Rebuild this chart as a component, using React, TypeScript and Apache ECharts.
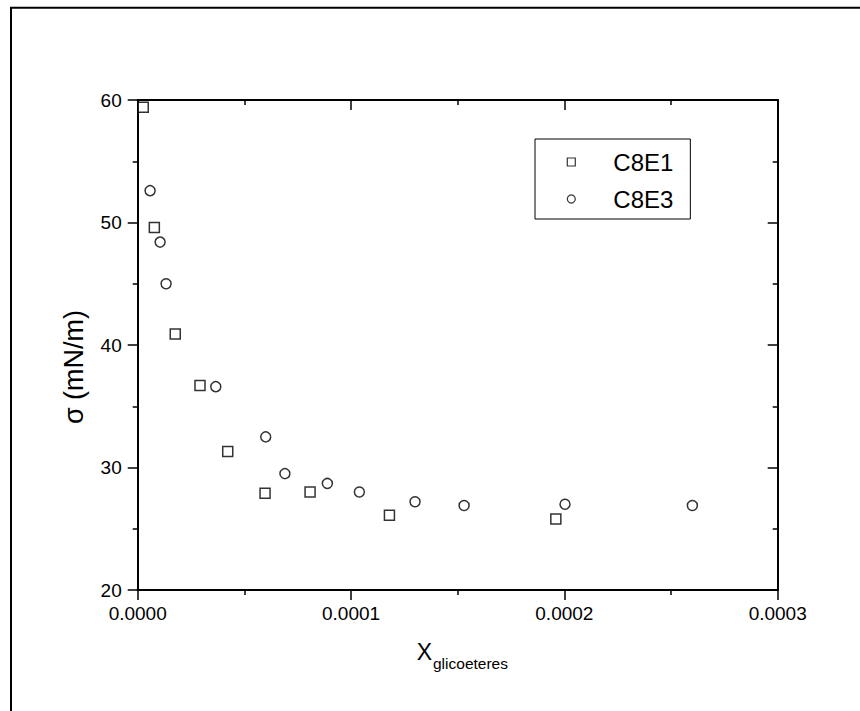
import React, { useEffect, useRef } from "react";
import * as echarts from "echarts";

const seriesNames = ["C8E1", "C8E3"];
const c8e1X = [2.6e-6, 7.8e-6, 1.76e-5, 2.92e-5, 4.22e-5, 5.97e-5, 8.08e-5, 1.18e-4, 1.96e-4];
const c8e1Y = [59.4, 49.6, 40.9, 36.7, 31.3, 27.9, 28.0, 26.1, 25.8];
const c8e3X = [5.8e-6, 1.05e-5, 1.33e-5, 3.66e-5, 6.0e-5, 6.9e-5, 8.89e-5, 1.039e-4, 1.3e-4, 1.53e-4, 2.003e-4, 2.6e-4];
const c8e3Y = [52.6, 48.4, 45.0, 36.6, 32.5, 29.5, 28.7, 28.0, 27.2, 26.9, 27.0, 26.9];
const xTitleMain = "X";
const xTitleSub = "glicoeteres";
const yTitle = "σ (mN/m)";

const FONT = "Arial, 'Liberation Sans', sans-serif";

export default function App() {
  const ref = useRef<HTMLDivElement>(null);
  useEffect(() => {
    document.body.style.margin = "0";
    if (!ref.current) return;
    const chart = echarts.init(ref.current, undefined, { renderer: "svg" });
    const axisLine = { show: true, onZero: false, lineStyle: { color: "#000", width: 2 } };
    const mk = (xs: number[], ys: number[]) => xs.map((x, i) => [x, ys[i]]);
    const markerStyle = { color: "#fff", borderColor: "#000", borderWidth: 1.5 };
    chart.setOption({
      animation: false,
      backgroundColor: "#fff",
      grid: { left: 137.7, right: 82.3, top: 100, bottom: 121 },
      xAxis: [
        {
          type: "value", min: 0, max: 0.0003, interval: 0.0001, position: "bottom",
          axisLine, splitLine: { show: false },
          axisTick: { show: true, inside: false, length: 10, lineStyle: { color: "#000", width: 1.5 } },
          minorTick: { show: true, splitNumber: 2, length: 5, lineStyle: { color: "#000", width: 1.5 } },
          axisLabel: { margin: 14, fontSize: 19, color: "#000", fontFamily: FONT, formatter: (v: number) => v.toFixed(4) },
        },
        {
          type: "value", min: 0, max: 0.0003, interval: 0.0001, position: "top",
          axisLine, splitLine: { show: false },
          axisTick: { show: true, inside: true, length: 10, lineStyle: { color: "#000", width: 1.5 } },
          minorTick: { show: true, splitNumber: 2, length: 5, lineStyle: { color: "#000", width: 1.5 } },
          axisLabel: { show: false },
        },
      ],
      yAxis: [
        {
          type: "value", min: 20, max: 60, interval: 10, position: "left",
          axisLine, splitLine: { show: false },
          axisTick: { show: true, inside: false, length: 10, lineStyle: { color: "#000", width: 1.5 } },
          minorTick: { show: true, splitNumber: 2, length: 5, lineStyle: { color: "#000", width: 1.5 } },
          axisLabel: { margin: 16, fontSize: 19, color: "#000", fontFamily: FONT },
        },
        {
          type: "value", min: 20, max: 60, interval: 10, position: "right",
          axisLine, splitLine: { show: false },
          axisTick: { show: true, inside: true, length: 10, lineStyle: { color: "#000", width: 1.5 } },
          minorTick: { show: true, splitNumber: 2, length: 5, lineStyle: { color: "#000", width: 1.5 } },
          axisLabel: { show: false },
        },
      ],
      legend: {
        orient: "vertical",
        left: 535,
        top: 139,
        padding: [10, 17, 7, 31.7],
        itemGap: 11,
        itemWidth: 8,
        itemHeight: 8,
        borderColor: "#000",
        borderWidth: 1,
        textStyle: { fontSize: 24, color: "#000", fontFamily: FONT, lineHeight: 26, padding: [0, 0, 0, 33] },
        data: [
          { name: seriesNames[0], icon: "rect", itemStyle: { color: "#fff", borderColor: "#000", borderWidth: 1.2 } },
          { name: seriesNames[1], icon: "circle", itemStyle: { color: "#fff", borderColor: "#000", borderWidth: 1.2 } },
        ],
      },
      series: [
        {
          name: seriesNames[0], type: "scatter", symbol: "rect", symbolSize: 10,
          itemStyle: markerStyle, data: mk(c8e1X, c8e1Y), xAxisIndex: 0, yAxisIndex: 0,
        },
        {
          name: seriesNames[1], type: "scatter", symbol: "circle", symbolSize: 10,
          itemStyle: markerStyle, data: mk(c8e3X, c8e3Y), xAxisIndex: 0, yAxisIndex: 0,
        },
      ],
      graphic: [
        {
          type: "rect", shape: { x: 11, y: 7.7, width: 900, height: 800 }, silent: true,
          style: { fill: "none", stroke: "#000", lineWidth: 2 },
        },
        {
          type: "text", x: 416.7, y: 651.5,
          style: { text: xTitleMain, fontSize: 23, fontFamily: FONT, fill: "#000", align: "left", verticalAlign: "middle" },
        },
        {
          type: "text", x: 433, y: 663,
          style: { text: xTitleSub, fontSize: 15.5, fontFamily: FONT, fill: "#000", align: "left", verticalAlign: "middle" },
        },
        {
          type: "text", x: 74, y: 367, rotation: Math.PI / 2,
          style: { text: yTitle, fontSize: 27, fontFamily: FONT, fill: "#000", align: "center", verticalAlign: "middle" },
        },
      ],
    });
    return () => chart.dispose();
  }, []);
  return <div ref={ref} style={{ width: 860, height: 711 }} />;
}
